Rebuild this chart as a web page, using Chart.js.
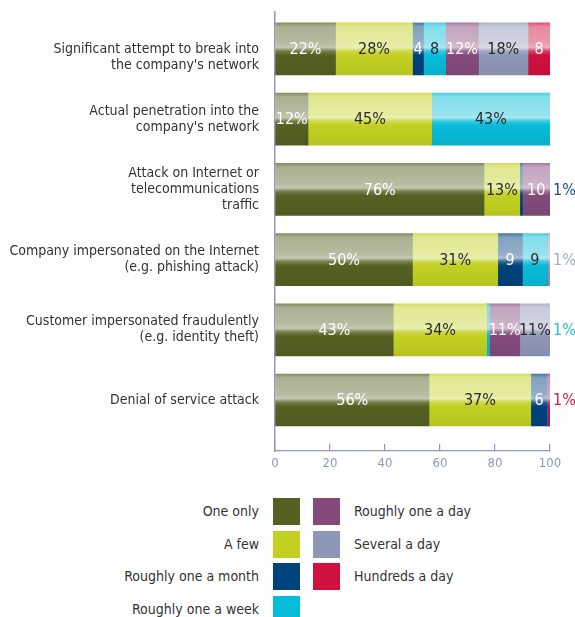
<!DOCTYPE html>
<html>
<head>
<meta charset="utf-8">
<script src="https://cdn.jsdelivr.net/npm/chart.js@4/dist/chart.umd.min.js"></script>
<style>
  html, body { margin: 0; padding: 0; background: #fff; }
  body {
    width: 575px; height: 617px; position: relative; overflow: hidden;
    font-family: 'DejaVu Sans Condensed', 'Liberation Sans Narrow', sans-serif;
  }
  #wrap { position: absolute; left: 0; top: 0; width: 575px; height: 480px; }
  .lg-box { position: absolute; width: 27px; height: 27px; }
  .lg-text { position: absolute; height: 27px; line-height: 27px; font-size: 14px; color: #333; white-space: nowrap; }
</style>
</head>
<body>
<div id="wrap"><canvas id="chart" width="575" height="480"></canvas></div>
<div id="legend"></div>
<script>
// ── Data ─────────────────────────────────────────────────────
const categories = [
  ["", "Significant attempt to break into", "the company's network"],
  ["Actual penetration into the", "company's network"],
  ["Attack on Internet or", "telecommunications", "traffic"],
  ["Company impersonated on the Internet", "(e.g. phishing attack)"],
  ["Customer impersonated fraudulently", "(e.g. identity theft)"],
  ["Denial of service attack"],
];

const seriesNames = [
  "One only", "A few", "Roughly one a month", "Roughly one a week",
  "Roughly one a day", "Several a day", "Hundreds a day",
];

const oneOnly       = [22, 12, 76, 50, 43, 56];
const aFew          = [28, 45, 13, 31, 34, 37];
const oneAMonth     = [ 4,  0,  1,  9,  0,  6];
const oneAWeek      = [ 8, 43,  0,  9,  1,  0];
const oneADay       = [12,  0, 10,  0, 11,  0];
const severalADay   = [18,  0,  0,  1, 11,  0];
const hundredsADay  = [ 8,  0,  0,  0,  0,  1];

const xTicks = [0, 20, 40, 60, 80, 100];

// ── Styles ───────────────────────────────────────────────────
const seriesValues = [oneOnly, aFew, oneAMonth, oneAWeek, oneADay, severalADay, hundredsADay];
const baseColors   = ["#556022", "#c3d022", "#00427c", "#06bcd9", "#844a7c", "#8e97b7", "#d0103f"];
const inkColors    = ["#ffffff", "#2a2a2a", "#ffffff", "#2a2a2a", "#ffffff", "#2a2a2a", "#ffffff"];
const outColors    = ["#556022", "#9aa52a", "#1d4f86", "#22c3de", "#844a7c", "#a4abc9", "#d31848"];
const axisColor    = "#8f98bd";
const FONT         = "'DejaVu Sans Condensed', 'Liberation Sans Narrow', sans-serif";
const BAR_H        = 52;

function mix(hex, f) {
  const n = parseInt(hex.slice(1), 16);
  const ch = [(n >> 16) & 255, (n >> 8) & 255, n & 255].map((v) =>
    f >= 0 ? Math.round(v + (255 - v) * f) : Math.round(v * (1 + f)));
  return `rgb(${ch[0]},${ch[1]},${ch[2]})`;
}

// glossy tube look: pale upper half, soft seam, saturated lower half
function tubeFill(base) {
  return (ctx) => {
    const chart = ctx.chart;
    if (!chart.chartArea || ctx.dataIndex === undefined) return base;
    const yc = chart.scales.y.getPixelForValue(ctx.dataIndex);
    const top = yc - BAR_H / 2;
    const g = chart.ctx.createLinearGradient(0, top, 0, top + BAR_H);
    g.addColorStop(0.00, mix(base, 0.28));
    g.addColorStop(0.07, mix(base, 0.50));
    g.addColorStop(0.40, mix(base, 0.58));
    g.addColorStop(0.47, mix(base, 0.66));
    g.addColorStop(0.54, mix(base, 0.20));
    g.addColorStop(0.62, base);
    g.addColorStop(1.00, mix(base, -0.06));
    return g;
  };
}

const datasets = seriesValues.map((vals, s) => ({
  label: seriesNames[s],
  data: vals.map((v, i) => ({ x: v, y: i })),
  backgroundColor: tubeFill(baseColors[s]),
  borderWidth: 0,
  barThickness: BAR_H,
}));

// ── Value labels ─────────────────────────────────────────────
const valueLabels = {
  id: "valueLabels",
  afterDatasetsDraw(chart) {
    const c = chart.ctx;
    const xs = chart.scales.x;
    c.save();
    c.textBaseline = "middle";
    c.font = `16px ${FONT}`;
    chart.data.datasets.forEach((ds, di) => {
      const meta = chart.getDatasetMeta(di);
      meta.data.forEach((bar, i) => {
        const v = ds.data[i].x;
        if (!v) return;
        if (v === 1) {
          // tiny slices are labelled past the end of the whole stack
          const total = seriesValues.reduce((a, arr) => a + arr[i], 0);
          c.textAlign = "left";
          c.fillStyle = outColors[di];
          c.fillText("1%", xs.getPixelForValue(total) + 3, bar.y + 1);
          return;
        }
        c.textAlign = "center";
        c.fillStyle = inkColors[di];
        c.fillText(v >= 11 ? v + "%" : String(v), (bar.x + bar.base) / 2, bar.y + 1);
      });
    });
    c.restore();
  },
};

new Chart(document.getElementById("chart"), {
  type: "bar",
  data: { datasets },
  plugins: [valueLabels],
  options: {
    indexAxis: "y",
    responsive: false,
    animation: false,
    layout: { padding: { left: 0, right: 25, top: 12, bottom: 0 } },
    plugins: { legend: { display: false }, tooltip: { enabled: false } },
    scales: {
      x: {
        type: "linear",
        stacked: true,
        min: 0,
        max: 100,
        afterBuildTicks: (s) => { s.ticks = xTicks.map((v) => ({ value: v })); },
        afterFit: (s) => { s.height = 29; s.paddingLeft = 0; s.paddingRight = 0; },
        grid: { drawOnChartArea: false, tickLength: -7, color: axisColor, lineWidth: 1.2 },
        border: { display: true, color: axisColor, width: 1.2 },
        ticks: { color: axisColor, font: { family: FONT, size: 13 }, padding: 12, maxRotation: 0 },
      },
      y: {
        type: "linear",
        stacked: true,
        reverse: true,
        offset: false,
        min: -0.526,
        max: 5.726,
        afterBuildTicks: (s) => { s.ticks = categories.map((_, i) => ({ value: i })); },
        afterFit: (s) => { s.width = 275; s.paddingTop = 0; s.paddingBottom = 0; },
        grid: { drawOnChartArea: false, drawTicks: false, offset: false },
        border: { display: true, color: axisColor, width: 1.5 },
        ticks: {
          autoSkip: false,
          padding: 16,
          color: "#333",
          font: { family: FONT, size: 14, lineHeight: 16 / 14 },
          callback: (v) => categories[v] || "",
        },
      },
    },
  },
});

// ── Legend (labels left of boxes, two columns) ──────────────
const legend = document.getElementById("legend");
seriesNames.forEach((name, s) => {
  const col = s < 4 ? 0 : 1;
  const row = s < 4 ? s : s - 4;
  const top = 498 + row * 32.6;
  const box = document.createElement("div");
  box.className = "lg-box";
  box.style.left = (col === 0 ? 273 : 313) + "px";
  box.style.top = top + "px";
  box.style.background = baseColors[s];
  legend.appendChild(box);
  const txt = document.createElement("div");
  txt.className = "lg-text";
  txt.style.top = top + "px";
  if (col === 0) { txt.style.right = (575 - 259) + "px"; txt.style.textAlign = "right"; }
  else { txt.style.left = "354px"; }
  txt.textContent = name;
  legend.appendChild(txt);
});
</script>
</body>
</html>
